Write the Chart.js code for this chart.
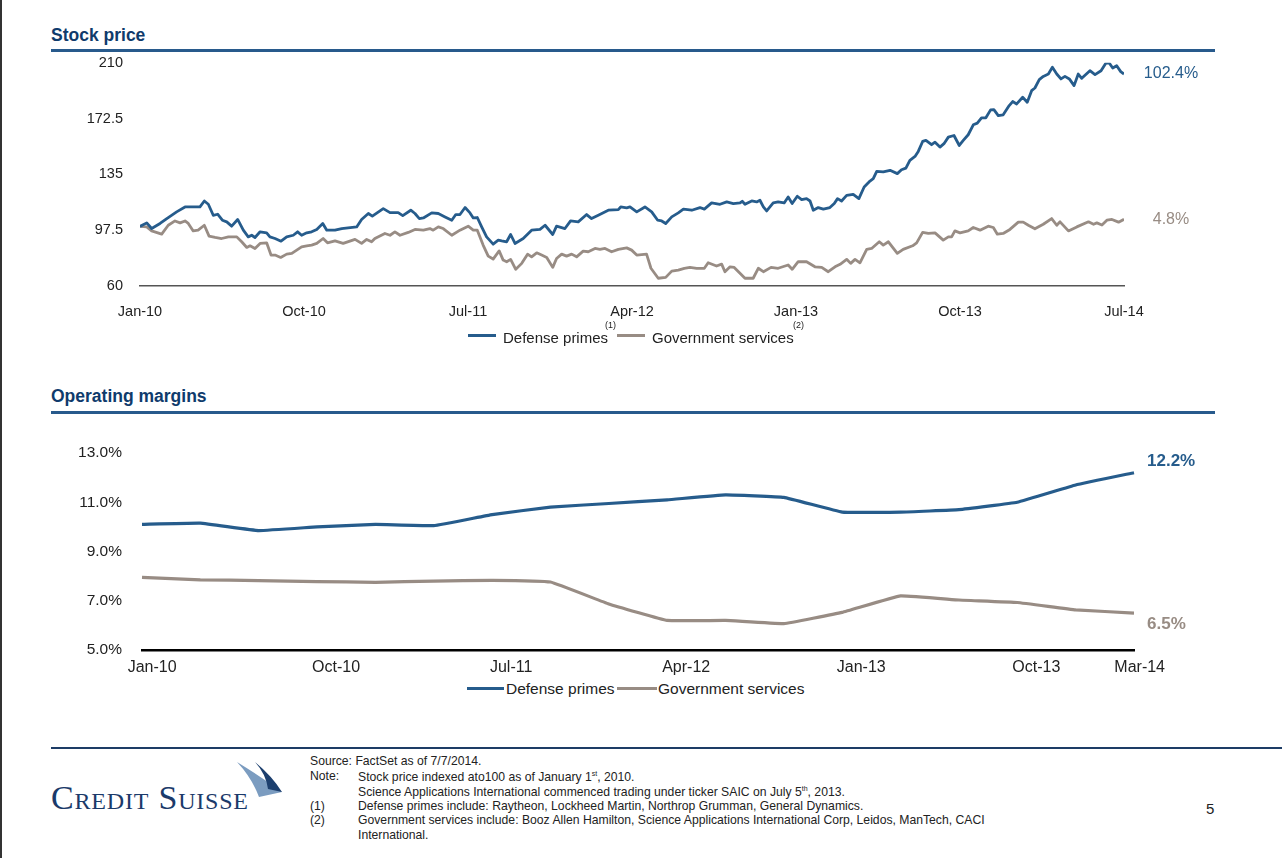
<!DOCTYPE html>
<html>
<head>
<meta charset="utf-8">
<title>Defense primes vs. government services</title>
<script src="https://cdn.jsdelivr.net/npm/chart.js@4.4.1/dist/chart.umd.min.js"></script>
<style>
  body { margin: 0; background: #fff; font-family: "Liberation Sans", Arial, sans-serif; color: #222; }
  #page { position: relative; width: 1282px; height: 858px; overflow: hidden; background: #fff; }
  .abs { position: absolute; white-space: nowrap; line-height: 1; }
  .hdr { left: 51px; font-size: 17.5px; font-weight: bold; color: #0f3b6c; }
  .rule { position: absolute; left: 51px; width: 1164px; height: 3px; background: #285a8c; }
  .box { position: absolute; left: 0; width: 1282px; }
  .legend { font-size: 15px; color: #222; }
  .swatch { position: absolute; height: 3px; }
  .sup { font-size: 9px; color: #222; }
  .note { font-size: 12.2px; color: #222; }
</style>
</head>
<body>
<div id="page">
  <div style="position:absolute;left:0;top:0;width:2px;height:858px;background:#333;"></div>

  <div class="abs hdr" style="top:27px;">Stock price</div>
  <div class="rule" style="top:49px;"></div>
  <div class="box" style="top:37px;height:293px;"><canvas id="priceChart" width="1282" height="293"></canvas></div>

  <!-- stock price legend -->
  <div class="swatch" style="left:468px;top:334px;width:28px;background:#265c8c;"></div>
  <div class="abs legend" style="left:503px;top:330px;">Defense primes</div>
  <div class="abs sup" style="left:605px;top:321px;">(1)</div>
  <div class="swatch" style="left:617px;top:334px;width:28px;background:#988c84;"></div>
  <div class="abs legend" style="left:652px;top:330px;">Government services</div>
  <div class="abs sup" style="left:793px;top:321px;">(2)</div>

  <div class="abs hdr" style="top:388px;">Operating margins</div>
  <div class="rule" style="top:411px;"></div>
  <div class="box" style="top:415px;height:265px;"><canvas id="marginChart" width="1282" height="265"></canvas></div>

  <!-- operating margin legend -->
  <div class="swatch" style="left:467px;top:687px;width:37px;background:#265c8c;"></div>
  <div class="abs legend" style="left:506px;top:681px;font-size:15.5px;">Defense primes</div>
  <div class="swatch" style="left:617px;top:687px;width:40px;background:#988c84;"></div>
  <div class="abs legend" style="left:658px;top:681px;font-size:15.5px;">Government services</div>

  <!-- footer -->
  <div style="position:absolute;left:51px;top:747px;width:1231px;height:2px;background:#1d3c66;"></div>
  <svg style="position:absolute;left:0;top:740px;" width="300" height="80">
    <path d="M237,22 Q263,38 282,52 L259,57 Q252,38 237,22 Z" fill="#7b9cc0"/>
    <path d="M255,22 Q272,36 282,52 L268,49 Q266,34 255,22 Z" fill="#1c3f6e"/>
  </svg>
  <div class="abs" style="left:51px;top:781px;font-family:'Liberation Serif','Times New Roman',serif;font-size:34px;font-variant:small-caps;letter-spacing:0.8px;color:#1b3a6a;">Credit Suisse</div>

  <div class="abs note" style="left:310px;top:755px;">Source: FactSet as of 7/7/2014.</div>
  <div class="abs note" style="left:310px;top:770px;">Note:</div>
  <div class="abs note" style="left:358px;top:770px;">Stock price indexed ato100 as of January 1<sup style="font-size:7px;">st</sup>, 2010.</div>
  <div class="abs note" style="left:358px;top:785px;">Science Applications International commenced trading under ticker SAIC on July 5<sup style="font-size:7px;">th</sup>, 2013.</div>
  <div class="abs note" style="left:310px;top:800px;">(1)</div>
  <div class="abs note" style="left:358px;top:800px;">Defense primes include: Raytheon, Lockheed Martin, Northrop Grumman, General Dynamics.</div>
  <div class="abs note" style="left:310px;top:814px;">(2)</div>
  <div class="abs note" style="left:358px;top:814px;">Government services include: Booz Allen Hamilton, Science Applications International Corp, Leidos, ManTech, CACI</div>
  <div class="abs note" style="left:358px;top:829px;">International.</div>
  <div class="abs" style="left:1206px;top:801px;font-size:15px;">5</div>
</div>

<script>
// Stock price index (Jan 1 2010 = 100); x positions are months after Jan-10
const priceTicks = ['Jan-10', 'Oct-10', 'Jul-11', 'Apr-12', 'Jan-13', 'Oct-13', 'Jul-14'];

const defenseMonths = [0, 0.37, 0.64, 1.10, 1.47, 2.01, 2.47, 3.29, 3.53, 3.75,
  4.02, 4.26, 4.52, 4.76, 5.03, 5.36, 5.67, 5.94, 6.13, 6.31,
  6.59, 6.95, 7.13, 7.41, 7.74, 8.05, 8.41, 8.65, 8.87, 9.15,
  9.42, 9.70, 10.03, 10.25, 10.70, 11.07, 11.89, 12.16, 12.53, 12.75,
  13.35, 13.72, 14.17, 14.42, 14.86, 15.09, 15.33, 15.55, 16.01, 16.37,
  16.74, 17.11, 17.33, 17.56, 17.84, 18.11, 18.29, 18.51, 18.75, 19.02,
  19.38, 19.66, 19.85, 20.12, 20.34, 20.58, 21.03, 21.49, 21.95, 22.23,
  22.65, 22.86, 23.32, 23.63, 24.05, 24.51, 24.78, 25.15, 25.70, 26.25,
  26.38, 26.71, 26.89, 27.26, 27.71, 28.08, 28.41, 28.63, 28.85, 29.18,
  29.54, 29.82, 30.28, 30.73, 30.97, 31.37, 31.83, 32.20, 32.56, 32.93,
  33.05, 33.20, 33.57, 33.84, 34.02, 34.21, 34.39, 34.75, 35.02, 35.35,
  35.57, 35.79, 36.07, 36.31, 36.58, 36.77, 36.95, 37.22, 37.50, 37.86,
  38.10, 38.28, 38.50, 38.78, 39.14, 39.45, 39.74, 40.06, 40.24, 40.43,
  40.79, 41.16, 41.56, 41.79, 42.03, 42.25, 42.53, 42.71, 42.95, 43.13,
  43.44, 43.63, 43.90, 44.12, 44.36, 44.67, 44.96, 45.18, 45.45, 45.73,
  45.95, 46.18, 46.42, 46.68, 46.86, 47.10, 47.37, 47.70, 47.89, 48.11,
  48.44, 48.69, 48.93, 49.11, 49.35, 49.57, 49.85, 50.07, 50.31, 50.54,
  50.76, 51.00, 51.26, 51.49, 51.68, 52.13, 52.41, 52.74, 53.01, 53.19,
  53.38, 53.60, 53.82, 54.00];
const defensePrice = [100, 102.4, 98.6, 102, 105.3, 109.8, 113.1, 113.1, 117.1, 114.9,
  107.5, 108.2, 104.2, 103.1, 100.2, 104.7, 97.5, 93, 94.1, 92.6,
  96.4, 95.7, 93, 91.9, 90.1, 93, 94.1, 96.4, 94.1, 95.7,
  96.4, 98, 102, 97.5, 97.5, 98.6, 99.7, 104.7, 108.7, 106.9,
  112, 109.3, 109.3, 107.3, 110.9, 108.7, 105.3, 105.7, 109.1, 108.7,
  106.4, 104.2, 108, 108, 112.7, 109.1, 105.7, 106, 99.7, 93,
  88.1, 90.8, 90.3, 89.7, 94.6, 88.6, 91.9, 97.5, 98, 100.8,
  94.6, 100.2, 98.6, 103.7, 103.1, 108, 105.3, 107.5, 110.9, 111.3,
  113.1, 112.5, 113.1, 109.8, 113.1, 109.8, 104.2, 103.7, 102, 106.4,
  109.1, 111.6, 110.9, 112.7, 111.6, 115.8, 114.9, 116.5, 115.4, 115.8,
  116.9, 114.9, 117.1, 116.5, 117.6, 113.1, 110.4, 115.8, 116.5, 115.8,
  119.8, 115.4, 120.3, 118, 118.7, 117.1, 110.9, 112.7, 111.6, 112.7,
  115.4, 118.7, 117.1, 120.9, 121.6, 118.7, 126.5, 130.5, 132.1, 137,
  136.6, 137.7, 135.5, 138.1, 139.2, 144.4, 147, 150.4, 157.1, 157.8,
  154.9, 156.6, 153.3, 155.6, 160, 161.1, 154.4, 157.8, 161.6, 168.3,
  169.4, 173, 173, 178.3, 178.5, 174.5, 175, 181.2, 183.9, 182.3,
  186.8, 183.4, 191.2, 193, 198.6, 200.8, 202.4, 206.9, 202.4, 199.1,
  200.8, 199.1, 194.6, 202.4, 199.5, 204.6, 202, 204.6, 209.8, 209.8,
  206.4, 208, 204, 202.4];

const servicesMonths = [0, 0.37, 0.64, 1.19, 1.55, 1.92, 2.20, 2.47, 2.65, 2.92,
  3.19, 3.53, 3.79, 4.12, 4.48, 4.85, 5.31, 5.58, 5.86, 6.04,
  6.31, 6.59, 6.95, 7.19, 7.41, 7.72, 8.05, 8.33, 8.60, 8.87,
  9.15, 9.42, 9.70, 10.05, 10.29, 10.70, 11.15, 11.80, 12.16, 12.44,
  12.71, 12.89, 13.44, 13.72, 13.99, 14.27, 14.72, 15.09, 15.55, 15.91,
  16.09, 16.37, 16.64, 17.11, 17.56, 18.01, 18.29, 18.51, 18.83, 19.11,
  19.38, 19.71, 19.93, 20.12, 20.34, 20.62, 20.95, 21.27, 21.49, 21.77,
  22.04, 22.32, 22.65, 22.86, 23.14, 23.41, 23.69, 23.96, 24.32, 24.60,
  24.97, 25.24, 25.52, 25.88, 26.25, 26.71, 26.98, 27.26, 27.80, 28.04,
  28.44, 28.85, 29.18, 29.54, 29.87, 30.18, 30.55, 30.97, 31.18, 31.64,
  31.92, 32.10, 32.38, 32.61, 33.20, 33.65, 33.93, 34.21, 34.63, 35.02,
  35.57, 35.79, 36.12, 36.58, 37.04, 37.41, 37.77, 38.14, 38.42, 38.78,
  39.00, 39.24, 39.51, 39.88, 40.15, 40.57, 40.79, 41.07, 41.56, 41.88,
  42.40, 42.62, 42.95, 43.26, 43.63, 44.08, 44.36, 44.54, 44.72, 45.00,
  45.45, 45.73, 46.10, 46.55, 46.83, 47.05, 47.37, 47.74, 48.20, 48.47,
  48.75, 49.11, 49.57, 50.03, 50.31, 50.49, 50.95, 51.41, 52.05, 52.33,
  52.51, 52.79, 53.06, 53.34, 53.70, 54.00];
const servicesPrice = [100, 99.7, 97, 94.8, 100.8, 103.7, 102.4, 103.7, 102, 97,
  97.5, 100.8, 93.5, 92.6, 91.9, 93, 93, 89.7, 85.9, 87,
  85.2, 88.6, 89, 80.8, 80.8, 79.2, 81.4, 81.9, 84.1, 86.3,
  87, 87.5, 88.6, 91.9, 89, 90.3, 88.6, 91.3, 88.6, 91.3,
  89.7, 91.9, 95.3, 94.1, 96.4, 94.1, 96, 98, 97.5, 98.6,
  97.5, 99.7, 98.6, 94.1, 97.5, 100.2, 97.5, 97.5, 87.5, 80.1,
  78.1, 83.6, 77.4, 76.3, 77.9, 71.2, 75.2, 81.4, 79.6, 82.3,
  80.8, 79.2, 72.5, 78.5, 81.4, 80.1, 81.4, 79.6, 83.4, 83,
  85.2, 84.6, 85.2, 83, 84.6, 85.6, 84.1, 80.8, 81.4, 71.9,
  65.2, 65.8, 70, 70.7, 71.9, 72.5, 71.9, 71.9, 75.6, 73.4,
  74.7, 69.6, 72.9, 72.5, 65.2, 65.2, 71.9, 69.6, 72.5, 71.9,
  74.1, 71.2, 76.3, 76.3, 72.9, 72.5, 69.6, 72.9, 74.6, 77.9,
  75.2, 77.9, 75.6, 84.6, 85.2, 89.7, 87.5, 89.7, 81.9, 84.6,
  87, 89, 96, 95.3, 95.7, 90.8, 93, 93, 97, 95.7,
  97, 99.3, 97.5, 100.2, 99.3, 94.8, 95.3, 98, 102.9, 102.9,
  100.8, 98.4, 101.5, 105.3, 100.8, 103.1, 97, 99.7, 103.1, 101.5,
  102.4, 101, 104.2, 104.7, 102.9, 104.8];

// Operating margins, quarterly (%)
const marginQuarters = ['Jan-10', 'Apr-10', 'Jul-10', 'Oct-10', 'Jan-11', 'Apr-11', 'Jul-11', 'Oct-11', 'Jan-12',
  'Apr-12', 'Jul-12', 'Oct-12', 'Jan-13', 'Apr-13', 'Jul-13', 'Oct-13', 'Jan-14', 'Mar-14'];
const defenseMargin = [10.1, 10.15, 9.85, 10.0, 10.1, 10.05, 10.5, 10.8, 10.95, 11.1, 11.3, 11.2, 10.6, 10.6, 10.7, 11.0, 11.7, 12.2];
const servicesMargin = [7.95, 7.85, 7.82, 7.78, 7.75, 7.8, 7.83, 7.76, 6.87, 6.2, 6.2, 6.07, 6.53, 7.2, 7.03, 6.93, 6.63, 6.5];

const BLUE = '#265c8c';
const GREY = '#988c84';
const FONT = "'Liberation Sans', Arial, sans-serif";

const toPoints = (xs, ys) => xs.map((x, i) => ({x: x, y: ys[i]}));

// writes a text next to the last point of every dataset
const endLabels = {
    id: 'endLabels',
    afterDatasetsDraw(chart, args, opts) {
        const ctx = chart.ctx;
        chart.data.datasets.forEach((ds, i) => {
            const meta = chart.getDatasetMeta(i);
            const pt = meta.data[meta.data.length - 1];
            ctx.save();
            ctx.font = opts.font;
            ctx.fillStyle = ds.borderColor;
            ctx.textAlign = opts.align;
            ctx.textBaseline = 'middle';
            ctx.fillText(ds.endText, pt.x + opts.dx, pt.y + (ds.endDy || 0));
            ctx.restore();
        });
    }
};

new Chart(document.getElementById('priceChart'), {
    type: 'line',
    data: {
        datasets: [{
            label: 'Defense primes',
            data: toPoints(defenseMonths, defensePrice),
            borderColor: BLUE,
            endText: (defensePrice[defensePrice.length - 1] - 100).toFixed(1) + '%',
        }, {
            label: 'Government services',
            data: toPoints(servicesMonths, servicesPrice),
            borderColor: GREY,
            endText: (servicesPrice[servicesPrice.length - 1] - 100).toFixed(1) + '%',
        }]
    },
    options: {
        responsive: false,
        animation: false,
        devicePixelRatio: 1,
        layout: { padding: { top: 12, right: 158, bottom: 0, left: 0 } },
        elements: {
            point: { radius: 0 },
            line: { borderWidth: 2.8, tension: 0, borderJoinStyle: 'round' }
        },
        scales: {
            x: {
                type: 'linear',
                min: 0,
                max: 54,
                grid: { display: false, drawTicks: false },
                border: { display: true, color: '#555', width: 1.5 },
                ticks: {
                    stepSize: 9,
                    padding: 17,
                    color: '#222',
                    font: { family: FONT, size: 14.5 },
                    callback: v => priceTicks[v / 9]
                },
                afterFit: s => { s.height = 44; }
            },
            y: {
                min: 60,
                max: 210,
                grid: { display: false, drawTicks: false },
                border: { display: false },
                ticks: {
                    stepSize: 37.5,
                    padding: 17,
                    color: '#222',
                    font: { family: FONT, size: 14.5 }
                },
                afterFit: s => { s.width = 140; }
            }
        },
        plugins: {
            legend: { display: false },
            tooltip: { enabled: false },
            endLabels: { font: "16px " + FONT, dx: 47, align: 'center' }
        }
    },
    plugins: [endLabels]
});

// first and last category labels sit a little further left than the others
const nudge = { 0: '    ', 17: '      ' };

new Chart(document.getElementById('marginChart'), {
    type: 'line',
    data: {
        labels: marginQuarters,
        datasets: [{
            label: 'Defense primes',
            data: defenseMargin,
            borderColor: BLUE,
            endText: defenseMargin[defenseMargin.length - 1].toFixed(1) + '%',
            endDy: -11,
        }, {
            label: 'Government services',
            data: servicesMargin,
            borderColor: GREY,
            endText: servicesMargin[servicesMargin.length - 1].toFixed(1) + '%',
            endDy: 11,
        }]
    },
    options: {
        responsive: false,
        animation: false,
        devicePixelRatio: 1,
        layout: { padding: { top: 38, right: 148, bottom: 0, left: 0 } },
        elements: {
            point: { radius: 0 },
            line: { borderWidth: 3.2, tension: 0.08, borderJoinStyle: 'round' }
        },
        scales: {
            x: {
                grid: { display: false, drawTicks: false },
                border: { display: true, color: '#000', width: 2.5 },
                ticks: {
                    autoSkip: false,
                    maxRotation: 0,
                    padding: 8,
                    labelOffset: 19,
                    color: '#222',
                    font: { family: FONT, size: 16 },
                    callback: function (v, i) {
                        if (i % 3 !== 0 && i !== marginQuarters.length - 1) return '';
                        return marginQuarters[i] + (nudge[i] || '');
                    }
                },
                afterFit: s => { s.height = 30; }
            },
            y: {
                min: 5,
                max: 13,
                grid: { display: false, drawTicks: false },
                border: { display: false },
                ticks: {
                    stepSize: 2,
                    padding: 20,
                    color: '#222',
                    font: { family: FONT, size: 15.5 },
                    callback: v => v.toFixed(1) + '%'
                },
                afterFit: s => { s.width = 142; }
            }
        },
        plugins: {
            legend: { display: false },
            tooltip: { enabled: false },
            endLabels: { font: "bold 17px " + FONT, dx: 13, align: 'left' }
        }
    },
    plugins: [endLabels]
});
</script>
</body>
</html>
